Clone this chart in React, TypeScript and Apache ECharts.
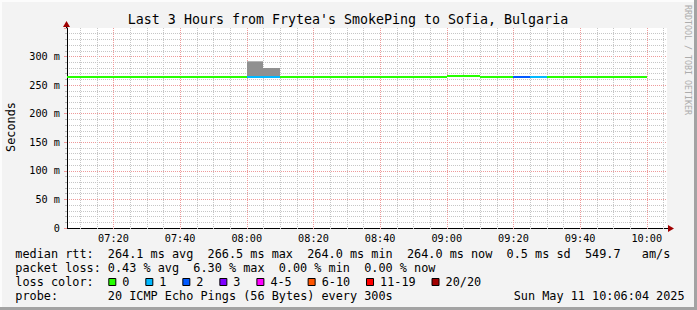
import React, { useEffect, useRef } from "react";
import * as echarts from "echarts";

// ---- data ----
const graphStart = "07:06:04";
const graphEnd = "10:06:04";
const stepMinutes = 5;
const stepStarts = [
  "07:05", "07:10", "07:15", "07:20", "07:25", "07:30", "07:35", "07:40", "07:45", "07:50", "07:55",
  "08:00", "08:05", "08:10", "08:15", "08:20", "08:25", "08:30", "08:35", "08:40", "08:45", "08:50", "08:55",
  "09:00", "09:05", "09:10", "09:15", "09:20", "09:25", "09:30", "09:35", "09:40", "09:45", "09:50", "09:55",
];
const medianRtt = [
  264.0, 264.0, 264.0, 264.0, 264.0, 264.0, 264.0, 264.0, 264.0, 264.0, 264.0,
  264.0, 264.0, 264.0, 264.0, 264.0, 264.0, 264.0, 264.0, 264.0, 264.0, 264.0, 264.0,
  265.6, 265.2, 264.0, 264.0, 264.0, 264.0, 264.0, 264.0, 264.0, 264.0, 264.0, 264.0,
];
const smokeMin = [
  263.8, 263.8, 263.8, 263.8, 263.8, 263.8, 263.8, 263.8, 263.8, 263.8, 263.8,
  263.9, 263.9, 263.8, 263.8, 263.8, 263.8, 263.8, 263.8, 263.8, 263.8, 263.8, 263.8,
  264.0, 264.0, 263.8, 263.8, 263.8, 263.8, 263.8, 263.8, 263.8, 263.8, 263.8, 263.8,
];
const smokeMid = [
  264.6, 264.6, 264.6, 264.6, 264.6, 264.6, 264.6, 264.6, 264.6, 264.6, 264.6,
  290.5, 279.6, 264.6, 264.6, 264.6, 264.6, 264.6, 264.6, 264.6, 264.6, 264.6, 264.6,
  266.4, 266.0, 264.6, 264.6, 264.6, 264.6, 264.6, 264.6, 264.6, 264.6, 264.6, 264.6,
];
const smokeMax = [
  264.8, 264.8, 264.8, 264.8, 264.8, 264.8, 264.8, 264.8, 264.8, 264.8, 264.8,
  292.0, 280.6, 264.8, 264.8, 264.8, 264.8, 264.8, 264.8, 264.8, 264.8, 264.8, 264.8,
  266.8, 266.3, 264.8, 264.8, 264.8, 264.8, 264.8, 264.8, 264.8, 264.8, 264.8, 264.8,
];
const lossPct = [
  0, 0, 0, 0, 0, 0, 0, 0, 0, 0, 0,
  5.0, 5.0, 0, 0, 0, 0, 0, 0, 0, 0, 0, 0,
  0, 0, 0, 0, 6.3, 5.0, 0, 0, 0, 0, 0, 0,
];
const xTickLabels = ["07:20", "07:40", "08:00", "08:20", "08:40", "09:00", "09:20", "09:40", "10:00"];
const lossLabels = ["0", "1", "2", "3", "4-5", "6-10", "11-19", "20/20"];
const lossColors = ["#26ff00", "#00b8ff", "#0059ff", "#7e00ff", "#ff00ff", "#ff5500", "#ff0000", "#a10000"];
const pingsPerStep = 20;

const titleText = "Last 3 Hours from Frytea's SmokePing to Sofia, Bulgaria";
const legendRow1: [number, string][] = [
  [0, "median rtt:"], [13, "264.1 ms avg"], [27, "266.5 ms max"], [41, "264.0 ms min"],
  [55, "264.0 ms now"], [69, "0.5 ms sd"], [80, "549.7"], [88, "am/s"],
];
const legendRow2: [number, string][] = [
  [0, "packet loss:"], [13, "0.43 % avg"], [25, "6.30 % max"], [37, "0.00 % min"], [49, "0.00 % now"],
];
const legendRow4: [number, string][] = [
  [0, "probe:"], [13, "20 ICMP Echo Pings (56 Bytes) every 300s"], [70, "Sun May 11 10:06:04 2025"],
];

// ---- helpers ----
const toMin = (s: string) => {
  const p = s.split(":").map(Number);
  return p[0] * 60 + p[1] + (p[2] || 0) / 60;
};
const fmtMin = (v: number) => {
  const m = Math.round(v);
  const h = Math.floor(m / 60);
  const mm = m % 60;
  return `${String(h).padStart(2, "0")}:${String(mm).padStart(2, "0")}`;
};
const lossIndex = (pct: number) => {
  const lost = (pct * pingsPerStep) / 100;
  if (lost <= 0) return 0;
  if (lost <= 1) return 1;
  if (lost <= 2) return 2;
  if (lost <= 3) return 3;
  if (lost <= 5) return 4;
  if (lost <= 10) return 5;
  if (lost < 20) return 6;
  return 7;
};

const MONO = '"DejaVu Sans Mono", "Liberation Mono", monospace';
const MINOR = "#c6c6c6";
const MAJOR = "#ee9a9a";

export default function App() {
  const ref = useRef<HTMLDivElement>(null);

  useEffect(() => {
    if (!ref.current) return;
    const chart = echarts.init(ref.current, null, { renderer: "svg" });

    const T0 = toMin(graphStart);
    const T1 = toMin(graphEnd);
    const majorVals = xTickLabels.map(toMin);
    const minorVals: number[] = [];
    for (let t = Math.ceil(T0 / 5) * 5; t < T1; t += 5) {
      if (t % 20 !== 0) minorVals.push(t);
    }

    const smokeData = stepStarts.map((s, i) => [
      toMin(s), toMin(s) + stepMinutes, smokeMin[i], smokeMid[i], smokeMax[i],
    ]);
    const medianData = stepStarts.map((s, i) => [
      toMin(s), toMin(s) + stepMinutes, medianRtt[i], lossPct[i],
    ]);

    const cw = 7.12;
    const x0 = 15.3;
    const legendFont = `11.83px ${MONO}`;
    const textEl = (x: number, y: number, text: string, extra: any = {}) => ({
      type: "text",
      x,
      y,
      silent: true,
      style: {
        text,
        fill: "#000",
        font: legendFont,
        textAlign: "left",
        textVerticalAlign: "middle",
        ...extra,
      },
    });

    const graphics: any[] = [];
    // frame
    graphics.push({ type: "rect", shape: { x: 0, y: 0, width: 697, height: 2 }, style: { fill: "#fcfcfc" }, silent: true });
    graphics.push({ type: "rect", shape: { x: 0, y: 0, width: 2, height: 310 }, style: { fill: "#fcfcfc" }, silent: true });
    graphics.push({ type: "rect", shape: { x: 694, y: 0, width: 3, height: 310 }, style: { fill: "#a3a3a3" }, silent: true });
    graphics.push({ type: "rect", shape: { x: 0, y: 307, width: 697, height: 3 }, style: { fill: "#a3a3a3" }, silent: true });
    // title
    graphics.push(textEl(348, 19, titleText, { textAlign: "center", font: `13.3px ${MONO}` }));
    // y axis name
    graphics.push({
      type: "text", x: 10.5, y: 127, rotation: Math.PI / 2, silent: true,
      style: { text: "Seconds", fill: "#000", font: legendFont, textAlign: "center", textVerticalAlign: "middle" },
    });
    // watermark
    graphics.push({
      type: "text", x: 688, y: 60, rotation: -Math.PI / 2, silent: true,
      style: { text: "RRDTOOL / TOBI OETIKER", fill: "#acacac", font: `8.3px ${MONO}`, textAlign: "center", textVerticalAlign: "middle" },
    });
    // axis arrows
    graphics.push({ type: "line", shape: { x1: 667, y1: 228.5, x2: 670, y2: 228.5 }, style: { stroke: "#000", lineWidth: 1 }, silent: true });
    graphics.push({ type: "polygon", shape: { points: [[668, 225], [674, 228.5], [668, 232]] }, style: { fill: "#a00000" }, silent: true });
    graphics.push({ type: "line", shape: { x1: 66.5, y1: 28, x2: 66.5, y2: 25 }, style: { stroke: "#000", lineWidth: 1 }, silent: true });
    graphics.push({ type: "polygon", shape: { points: [[63, 27], [66.5, 21], [70, 27]] }, style: { fill: "#a00000" }, silent: true });

    // legend rows
    legendRow1.forEach(([c, t]) => graphics.push(textEl(x0 + c * cw, 254, t)));
    legendRow2.forEach(([c, t]) => graphics.push(textEl(x0 + c * cw, 268, t)));
    graphics.push(textEl(x0, 282, "loss color:"));
    let bx = 108.3;
    lossLabels.forEach((lab, i) => {
      graphics.push({
        type: "rect", silent: true,
        shape: { x: bx + 0.5, y: 278.5, width: 7, height: 7 },
        style: { fill: lossColors[i], stroke: "#000", lineWidth: 1 },
      });
      graphics.push(textEl(bx + 14, 282, lab));
      bx += 14.5 + lab.length * cw + 15.4;
    });
    legendRow4.forEach(([c, t]) => graphics.push(textEl(x0 + c * cw, 296, t)));

    // vertical grid lines: dotted rects (1px wide) drawn through the axis scale
    const vGridSeries = (vals: number[], color: string) => ({
      type: "custom",
      z: 2,
      silent: true,
      clip: false,
      data: vals.map((v) => [v, 0, 350]),
      encode: { x: 0, y: [1, 2] },
      renderItem: (params: any, api: any) => {
        const bottom = api.coord([api.value(0), api.value(1)]);
        const top = api.coord([api.value(0), api.value(2)]);
        const x = Math.round(bottom[0]);
        const yb = Math.round(bottom[1]) + 2;
        const yt = Math.round(top[1]);
        const children: any[] = [];
        for (let y = yt; y < yb; y += 2) {
          children.push({ type: "rect", shape: { x, y, width: 1, height: 1 }, style: { fill: color } });
        }
        return { type: "group", children };
      },
    });

    const option: any = {
      animation: false,
      backgroundColor: "#f3f3f3",
      grid: {
        left: 67, top: 28, width: 600, height: 200,
        show: true, backgroundColor: "#ffffff", borderWidth: 0,
        containLabel: false,
      },
      xAxis: {
        type: "value",
        min: T0,
        max: T1,
        axisLine: { show: true, onZero: false, lineStyle: { color: "#000", width: 1 } },
        axisTick: { show: false },
        axisLabel: {
          show: true,
          customValues: majorVals,
          formatter: (v: number) => fmtMin(v),
          fontFamily: MONO,
          fontSize: 10.2,
          color: "#000",
          margin: 5,
        },
        splitLine: { show: false },
      },
      yAxis: {
        type: "value",
        min: 0,
        max: 350,
        interval: 50,
        axisLine: { show: true, lineStyle: { color: "#000", width: 1 } },
        axisTick: { show: true, length: 3, lineStyle: { color: MAJOR } },
        minorTick: { show: true, splitNumber: 5, length: 2, lineStyle: { color: "#b8b8b8" } },
        splitLine: { show: true, showMaxLine: false, lineStyle: { color: MAJOR, type: [1, 1], width: 1 } },
        minorSplitLine: { show: true, lineStyle: { color: MINOR, type: [1, 1], width: 1 } },
        axisLabel: {
          formatter: (v: number) => (v === 0 ? "0" : `${v} m`),
          showMaxLabel: false,
          margin: 7,
          fontFamily: MONO,
          fontSize: 10.2,
          color: "#000",
        },
      },
      graphic: graphics,
      series: [
        vGridSeries(minorVals, MINOR),
        vGridSeries(majorVals, MAJOR),
        {
          type: "custom",
          z: 3,
          clip: true,
          silent: true,
          data: smokeData,
          encode: { x: [0, 1], y: [2, 3, 4] },
          renderItem: (params: any, api: any) => {
            const s = api.value(0), e = api.value(1);
            const lo = api.coord([s, api.value(2)]);
            const mid = api.coord([e, api.value(3)]);
            const hi = api.coord([e, api.value(4)]);
            const xl = Math.round(lo[0]), xr = Math.round(mid[0]);
            const yLo = Math.round(lo[1]), yMid = Math.round(mid[1]), yHi = Math.round(hi[1]);
            return {
              type: "group",
              children: [
                {
                  type: "rect",
                  shape: { x: xl, y: yMid, width: xr - xl, height: yLo - yMid },
                  style: { fill: "#909090" },
                },
                {
                  type: "rect",
                  shape: { x: xl, y: yHi, width: xr - xl, height: yMid - yHi },
                  style: { fill: "#b4b4b4" },
                },
              ],
            };
          },
        },
        {
          type: "custom",
          z: 4,
          clip: true,
          silent: true,
          data: medianData,
          encode: { x: [0, 1], y: 2 },
          renderItem: (params: any, api: any) => {
            const a = api.coord([api.value(0), api.value(2)]);
            const b = api.coord([api.value(1), api.value(2)]);
            const y = Math.round(a[1]);
            return {
              type: "line",
              shape: { x1: Math.round(a[0]), y1: y, x2: Math.round(b[0]), y2: y },
              style: { stroke: lossColors[lossIndex(api.value(3))], lineWidth: 2 },
            };
          },
        },
      ],
    };

    chart.setOption(option);
    return () => chart.dispose();
  }, []);

  return (
    <div
      ref={ref}
      style={{ position: "absolute", left: 0, top: 0, width: 697, height: 310 }}
    />
  );
}
